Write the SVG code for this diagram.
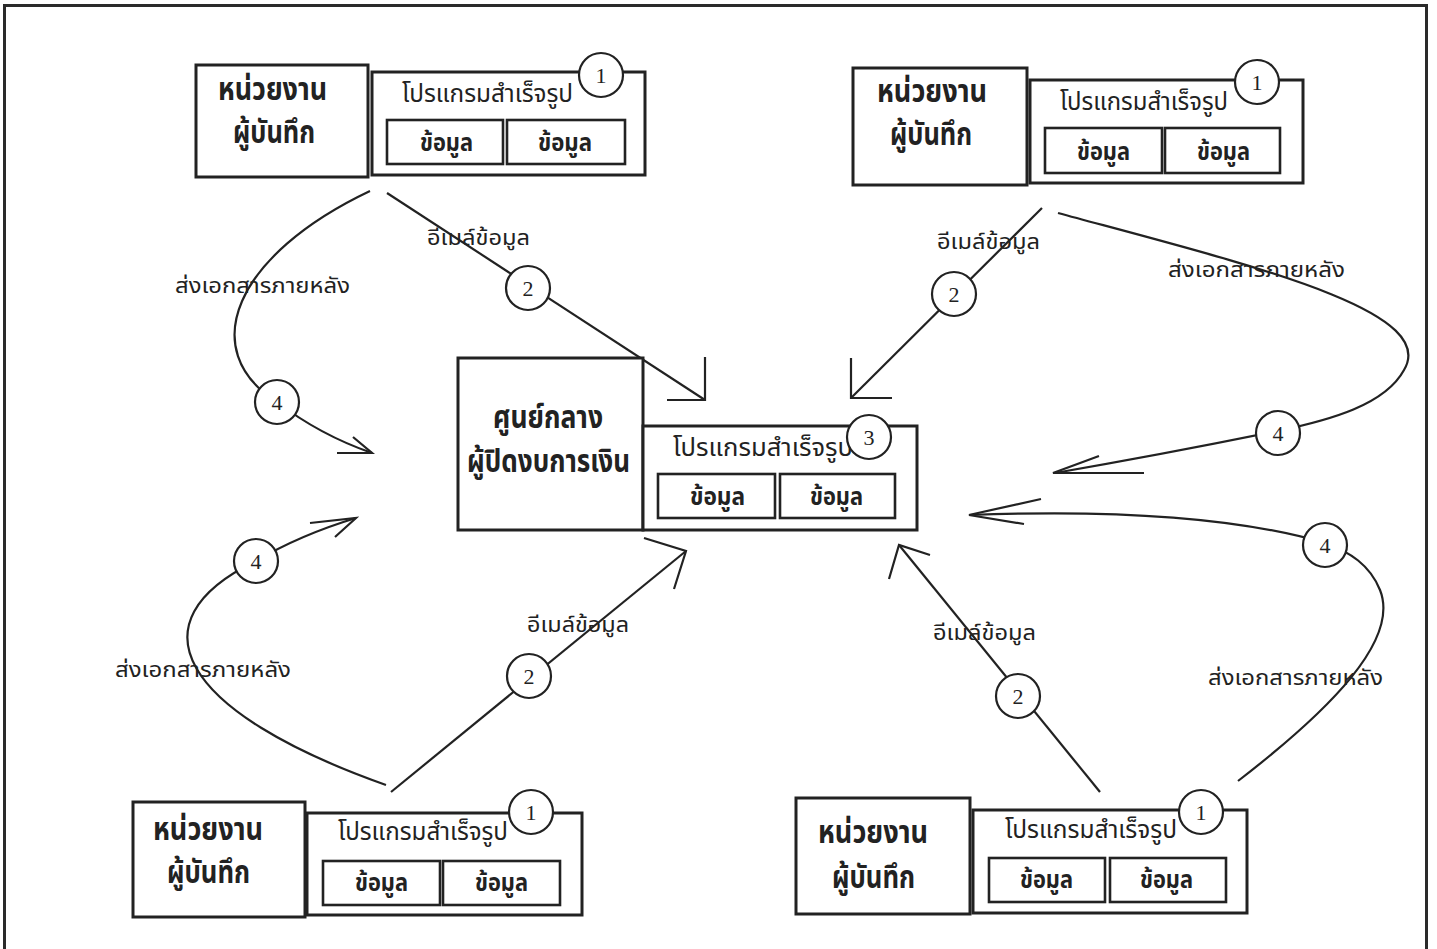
<svg xmlns="http://www.w3.org/2000/svg" width="1437" height="949" viewBox="0 0 1437 949">
<defs>
<style>
.frame{fill:none;stroke:#2a2a2a;stroke-width:3}
.box{fill:#fff;stroke:#222;stroke-width:3}
.ibox{fill:#fff;stroke:#222;stroke-width:2.6}
.num{fill:#fff;stroke:#222;stroke-width:2.2}
.ln{fill:none;stroke:#222;stroke-width:2.2;stroke-linecap:butt}
.t{font-family:"Noto Sans Thai","Noto Sans Thai Looped","Loma","Garuda","Norasi","Tlwg Typo","DejaVu Sans",sans-serif;fill:#222;text-anchor:start}
.big{font-size:31px;font-weight:bold}
.prog{font-size:24px}
.dat{font-size:24px;font-weight:bold}
.lbl{font-size:22px}
.n{font-family:"Liberation Serif","DejaVu Serif",serif;font-size:22px;fill:#222;text-anchor:middle}
</style>
</defs>
<rect x="0" y="0" width="1437" height="949" fill="#fff"/>
<rect class="frame" x="4.5" y="5.5" width="1422" height="970"/>

<g id="connectors">
  <!-- top-left -->
  <line class="ln" x1="387" y1="193" x2="705" y2="400"/>
  <polyline class="ln" points="705,357 705,400 667,400"/>
  <path class="ln" d="M370,191 C235,255 195,350 277,402 Q320,435 372,453"/>
  <polyline class="ln" points="337,453 372,453 353,437"/>
  <!-- top-right -->
  <line class="ln" x1="1042" y1="208" x2="851" y2="398"/>
  <polyline class="ln" points="851,358 851,398 892,398"/>
  <path class="ln" d="M1058,213 C1250,265 1440,310 1404,370 C1385,405 1330,420 1278,431 Q1160,455 1055,473"/>
  <polyline class="ln" points="1144,473 1053,473 1099,456"/>
  <!-- bottom-left -->
  <line class="ln" x1="391" y1="792" x2="686" y2="551"/>
  <polyline class="ln" points="644,538 686,551 674,589"/>
  <path class="ln" d="M386,785 C180,712 130,622 256,561 Q300,535 356,518"/>
  <polyline class="ln" points="310,523 356,518 335,537"/>
  <!-- bottom-right -->
  <line class="ln" x1="1100" y1="792" x2="899" y2="545"/>
  <polyline class="ln" points="930,555 899,545 889,579"/>
  <path class="ln" d="M1238,781 C1330,710 1400,640 1380,590 C1370,565 1350,552 1325,543 C1230,515 1100,510 969,515"/>
  <polyline class="ln" points="1041,499 969,515 1024,524"/>

  <text class="t lbl" x="427" y="245" textLength="103" lengthAdjust="spacingAndGlyphs">อีเมล์ข้อมูล</text>
  <text class="t lbl" x="175" y="293" textLength="175" lengthAdjust="spacingAndGlyphs">ส่งเอกสารภายหลัง</text>
  <text class="t lbl" x="937" y="249" textLength="103" lengthAdjust="spacingAndGlyphs">อีเมล์ข้อมูล</text>
  <text class="t lbl" x="1168" y="277" textLength="177" lengthAdjust="spacingAndGlyphs">ส่งเอกสารภายหลัง</text>
  <text class="t lbl" x="527" y="632" textLength="102" lengthAdjust="spacingAndGlyphs">อีเมล์ข้อมูล</text>
  <text class="t lbl" x="115" y="677" textLength="176" lengthAdjust="spacingAndGlyphs">ส่งเอกสารภายหลัง</text>
  <text class="t lbl" x="933" y="640" textLength="103" lengthAdjust="spacingAndGlyphs">อีเมล์ข้อมูล</text>
  <text class="t lbl" x="1208" y="685" textLength="175" lengthAdjust="spacingAndGlyphs">ส่งเอกสารภายหลัง</text>

  <circle class="num" cx="528" cy="288" r="22"/><text class="n" x="528" y="296">2</text>
  <circle class="num" cx="277" cy="402" r="22"/><text class="n" x="277" y="410">4</text>
  <circle class="num" cx="954" cy="294" r="22"/><text class="n" x="954" y="302">2</text>
  <circle class="num" cx="1278" cy="433" r="22"/><text class="n" x="1278" y="441">4</text>
  <circle class="num" cx="529" cy="676" r="22"/><text class="n" x="529" y="684">2</text>
  <circle class="num" cx="256" cy="561" r="22"/><text class="n" x="256" y="569">4</text>
  <circle class="num" cx="1018" cy="696" r="22"/><text class="n" x="1018" y="704">2</text>
  <circle class="num" cx="1325" cy="545" r="22"/><text class="n" x="1325" y="553">4</text>
</g>

<g id="node-tl">
  <rect class="box" x="196" y="65" width="172" height="112"/>
  <text class="t big" x="218" y="100" textLength="109" lengthAdjust="spacingAndGlyphs">หน่วยงาน</text>
  <text class="t big" x="233" y="143" textLength="82" lengthAdjust="spacingAndGlyphs">ผู้บันทึก</text>
  <rect class="box" x="372" y="72" width="273" height="103"/>
  <text class="t prog" x="402" y="102" textLength="171" lengthAdjust="spacingAndGlyphs">โปรแกรมสำเร็จรูป</text>
  <rect class="ibox" x="387" y="120" width="116" height="44"/>
  <text class="t dat" x="420" y="151" textLength="53" lengthAdjust="spacingAndGlyphs">ข้อมูล</text>
  <rect class="ibox" x="507" y="120" width="118" height="44"/>
  <text class="t dat" x="538" y="151" textLength="54" lengthAdjust="spacingAndGlyphs">ข้อมูล</text>
  <circle class="num" cx="601" cy="75" r="22"/><text class="n" x="601" y="83">1</text>
</g>

<g id="node-tr">
  <rect class="box" x="853" y="68" width="174" height="117"/>
  <text class="t big" x="877" y="102" textLength="110" lengthAdjust="spacingAndGlyphs">หน่วยงาน</text>
  <text class="t big" x="890" y="145" textLength="82" lengthAdjust="spacingAndGlyphs">ผู้บันทึก</text>
  <rect class="box" x="1030" y="80" width="273" height="103"/>
  <text class="t prog" x="1060" y="110" textLength="168" lengthAdjust="spacingAndGlyphs">โปรแกรมสำเร็จรูป</text>
  <rect class="ibox" x="1045" y="128" width="117" height="45"/>
  <text class="t dat" x="1077" y="160" textLength="53" lengthAdjust="spacingAndGlyphs">ข้อมูล</text>
  <rect class="ibox" x="1165" y="128" width="115" height="45"/>
  <text class="t dat" x="1197" y="160" textLength="53" lengthAdjust="spacingAndGlyphs">ข้อมูล</text>
  <circle class="num" cx="1257" cy="82" r="22"/><text class="n" x="1257" y="90">1</text>
</g>

<g id="node-center">
  <rect class="box" x="458" y="358" width="185" height="172"/>
  <text class="t big" x="493" y="428" textLength="110" lengthAdjust="spacingAndGlyphs">ศูนย์กลาง</text>
  <text class="t big" x="467" y="472" textLength="163" lengthAdjust="spacingAndGlyphs">ผู้ปิดงบการเงิน</text>
  <rect class="box" x="643" y="426" width="274" height="104"/>
  <text class="t prog" x="673" y="456" textLength="180" lengthAdjust="spacingAndGlyphs">โปรแกรมสำเร็จรูป</text>
  <rect class="ibox" x="658" y="474" width="117" height="44"/>
  <text class="t dat" x="690" y="505" textLength="55" lengthAdjust="spacingAndGlyphs">ข้อมูล</text>
  <rect class="ibox" x="780" y="474" width="115" height="44"/>
  <text class="t dat" x="810" y="505" textLength="53" lengthAdjust="spacingAndGlyphs">ข้อมูล</text>
  <circle class="num" cx="869" cy="437" r="22"/><text class="n" x="869" y="445">3</text>
</g>

<g id="node-bl">
  <rect class="box" x="133" y="802" width="172" height="115"/>
  <text class="t big" x="153" y="840" textLength="110" lengthAdjust="spacingAndGlyphs">หน่วยงาน</text>
  <text class="t big" x="167" y="883" textLength="83" lengthAdjust="spacingAndGlyphs">ผู้บันทึก</text>
  <rect class="box" x="307" y="813" width="275" height="102"/>
  <text class="t prog" x="338" y="840" textLength="170" lengthAdjust="spacingAndGlyphs">โปรแกรมสำเร็จรูป</text>
  <rect class="ibox" x="323" y="861" width="117" height="44"/>
  <text class="t dat" x="355" y="891" textLength="53" lengthAdjust="spacingAndGlyphs">ข้อมูล</text>
  <rect class="ibox" x="443" y="861" width="117" height="44"/>
  <text class="t dat" x="475" y="891" textLength="53" lengthAdjust="spacingAndGlyphs">ข้อมูล</text>
  <circle class="num" cx="531" cy="812" r="22"/><text class="n" x="531" y="820">1</text>
</g>

<g id="node-br">
  <rect class="box" x="796" y="798" width="174" height="116"/>
  <text class="t big" x="818" y="843" textLength="110" lengthAdjust="spacingAndGlyphs">หน่วยงาน</text>
  <text class="t big" x="832" y="888" textLength="83" lengthAdjust="spacingAndGlyphs">ผู้บันทึก</text>
  <rect class="box" x="973" y="810" width="274" height="103"/>
  <text class="t prog" x="1005" y="838" textLength="172" lengthAdjust="spacingAndGlyphs">โปรแกรมสำเร็จรูป</text>
  <rect class="ibox" x="989" y="858" width="116" height="44"/>
  <text class="t dat" x="1020" y="888" textLength="53" lengthAdjust="spacingAndGlyphs">ข้อมูล</text>
  <rect class="ibox" x="1110" y="858" width="116" height="44"/>
  <text class="t dat" x="1140" y="888" textLength="53" lengthAdjust="spacingAndGlyphs">ข้อมูล</text>
  <circle class="num" cx="1201" cy="812" r="22"/><text class="n" x="1201" y="820">1</text>
</g>
</svg>
